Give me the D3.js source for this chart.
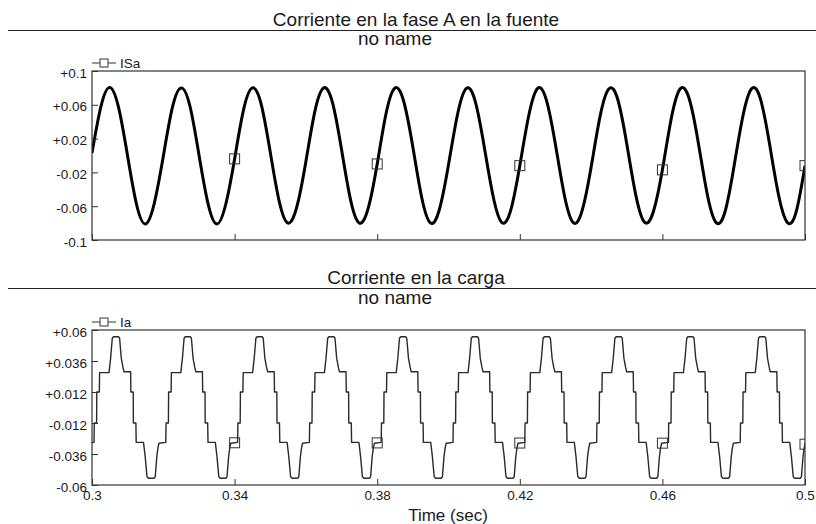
<!DOCTYPE html>
<html>
<head>
<meta charset="utf-8">
<script src="https://cdn.jsdelivr.net/npm/d3@7"></script>
<style>
  body { margin: 0; background: #fff; }
  text { font-family: "Liberation Sans", Arial, sans-serif; fill: #1a1a1a; }
</style>
</head>
<body>
<svg id="chart" width="816" height="524"></svg>
<script>
// axis ticks
const timeTicks = [0.3, 0.34, 0.38, 0.42, 0.46, 0.5];
const sourceTicks = [-0.1, -0.06, -0.02, 0.02, 0.06, 0.1];
const loadTicks = [-0.06, -0.036, -0.012, 0.012, 0.036, 0.06];
const markerTimes = [0.34, 0.38, 0.42, 0.46, 0.5];

const sourceStart = 0.3;
const sourceStep = 0.0025;
const sourceCurrent = [
  0.003, 0.058, 0.0805, 0.056, -0.001, -0.058, -0.081, -0.056,
  -0.001, 0.056, 0.080, 0.058, 0.001, -0.056, -0.081, -0.058,
  -0.004, 0.054, 0.080, 0.060, 0.004, -0.054, -0.080, -0.060,
  -0.007, 0.052, 0.080, 0.062, 0.007, -0.052, -0.080, -0.062,
  -0.010, 0.050, 0.080, 0.063, 0.010, -0.050, -0.080, -0.063,
  -0.011, 0.048, 0.0795, 0.064, 0.011, -0.048, -0.0795, -0.064,
  -0.012, 0.047, 0.0795, 0.065, 0.013, -0.047, -0.0795, -0.065,
  -0.014, 0.046, 0.079, 0.066, 0.014, -0.046, -0.079, -0.066,
  -0.017, 0.044, 0.079, 0.0675, 0.017, -0.044, -0.079, -0.0675,
  -0.015, 0.045, 0.079, 0.067, 0.015, -0.045, -0.079, -0.067,
  -0.012
];

// Ia: one period of the stepped load current (time offset from the rising edge, value)
const loadShapeT = [0, 0.00008, 0.00073, 0.00079, 0.00149, 0.00157, 0.00421, 0.00466, 0.00513, 0.00547,
  0.00687, 0.00718, 0.00766, 0.00813, 0.00842, 0.01027, 0.01035, 0.01100, 0.01105, 0.01175,
  0.01184, 0.01389, 0.01436, 0.01487, 0.01529, 0.01683, 0.01717, 0.01762, 0.01795, 0.01823];
const loadShapeV = [-0.027, -0.012, -0.012, 0.012, 0.012, 0.027, 0.027, 0.038, 0.0536, 0.0548,
  0.0548, 0.0536, 0.038, 0.031, 0.0277, 0.0277, 0.012, 0.012, -0.012, -0.012,
  -0.027, -0.027, -0.038, -0.0536, -0.0548, -0.0548, -0.0536, -0.038, -0.031, -0.0277];
// rising edge of each period as seen on the plot
const loadCycleStarts = [0.28042, 0.30056, 0.32070, 0.34084, 0.36098, 0.38112,
  0.40126, 0.42140, 0.44155, 0.46169, 0.48183];

// build point lists
const sourceData = sourceCurrent.map((v, i) => ({ t: sourceStart + i * sourceStep, v: v }));
const loadData = [];
loadCycleStarts.forEach(t0 => {
  loadShapeT.forEach((dt, i) => loadData.push({ t: t0 + dt, v: loadShapeV[i] }));
});
loadData.push({ t: 0.52, v: -0.027 });

const bisect = d3.bisector(d => d.t).left;
function valueAt(data, t) {
  const i = bisect(data, t);
  if (i <= 0) return data[0].v;
  if (i >= data.length) return data[data.length - 1].v;
  const a = data[i - 1], b = data[i];
  return a.v + (b.v - a.v) * (t - a.t) / (b.t - a.t);
}

const svg = d3.select('#chart');
const x = d3.scaleLinear().domain([0.3, 0.5]).range([92, 805]);
const signed = d => (d > 0 ? '+' : '') + String(d);

const panels = [
  { id: 'src', title: 'Corriente en la fase A en la fuente', sepY: 30, titleY: 26, subY: 45,
    top: 71, bottom: 240, domain: [-0.1, 0.1], ticks: sourceTicks, data: sourceData,
    name: 'ISa', width: 3, curve: d3.curveNatural, xLabels: false },
  { id: 'load', title: 'Corriente en la carga', sepY: 288, titleY: 284, subY: 304,
    top: 330, bottom: 485, domain: [-0.06, 0.06], ticks: loadTicks, data: loadData,
    name: 'Ia', width: 1.4, curve: d3.curveLinear, xLabels: true }
];

panels.forEach(p => {
  const y = d3.scaleLinear().domain(p.domain).range([p.bottom, p.top]);

  svg.append('line')
    .attr('x1', 8).attr('x2', 816)
    .attr('y1', p.sepY + 0.5).attr('y2', p.sepY + 0.5)
    .attr('stroke', '#222').attr('stroke-width', 1.2);

  svg.append('text')
    .attr('x', 416).attr('y', p.titleY)
    .attr('text-anchor', 'middle')
    .style('font-size', '19px')
    .text(p.title);

  svg.append('text')
    .attr('x', 395).attr('y', p.subY)
    .attr('text-anchor', 'middle')
    .style('font-size', '19px')
    .text('no name');

  svg.append('clipPath').attr('id', 'clip-' + p.id)
    .append('rect')
    .attr('x', 92).attr('y', p.top)
    .attr('width', 805 - 92).attr('height', p.bottom - p.top);

  const line = d3.line().x(d => x(d.t)).y(d => y(d.v)).curve(p.curve);

  const plot = svg.append('g').attr('clip-path', `url(#clip-${p.id})`);
  plot.append('path')
    .datum(p.data)
    .attr('d', line)
    .attr('fill', 'none')
    .attr('stroke', p.id === 'src' ? '#000' : '#2a2a2a')
    .attr('stroke-width', p.width)
    .attr('stroke-linejoin', 'round');

  plot.selectAll('rect.marker')
    .data(markerTimes)
    .join('rect')
    .attr('class', 'marker')
    .attr('x', t => x(t) - 5)
    .attr('y', t => y(valueAt(p.data, t)) - 5)
    .attr('width', 10).attr('height', 10)
    .attr('fill', 'none')
    .attr('stroke', '#333')
    .attr('stroke-width', 1);

  // frame
  svg.append('rect')
    .attr('x', 92).attr('y', p.top)
    .attr('width', 805 - 92).attr('height', p.bottom - p.top)
    .attr('fill', 'none')
    .attr('stroke', '#333')
    .attr('stroke-width', 1.2);

  svg.append('g')
    .attr('transform', 'translate(92,0)')
    .call(d3.axisLeft(y).tickValues(p.ticks).tickSize(-6).tickPadding(5).tickFormat(signed))
    .call(g => g.select('.domain').remove())
    .call(g => g.selectAll('line').attr('stroke', '#333'))
    .call(g => g.selectAll('text')
      .attr('dy', '0.45em')
      .style('font-size', '13.5px')
      .style('font-family', '"Liberation Sans", Arial, sans-serif')
      .attr('fill', '#1a1a1a'));

  const xAxis = d3.axisBottom(x).tickValues(timeTicks).tickSize(-6).tickPadding(5);
  if (!p.xLabels) xAxis.tickFormat('');
  else xAxis.tickFormat(d => String(d));
  svg.append('g')
    .attr('transform', `translate(0,${p.bottom})`)
    .call(xAxis)
    .call(g => g.select('.domain').remove())
    .call(g => g.selectAll('line').attr('stroke', '#333'))
    .call(g => g.selectAll('text')
      .style('font-size', '13.5px')
      .style('font-family', '"Liberation Sans", Arial, sans-serif')
      .attr('fill', '#1a1a1a'));

  // legend above the frame
  const ly = p.top - 8;
  const lg = svg.append('g');
  lg.append('line')
    .attr('x1', 92).attr('x2', 116).attr('y1', ly).attr('y2', ly)
    .attr('stroke', '#333');
  lg.append('rect')
    .attr('x', 100).attr('y', ly - 4).attr('width', 8).attr('height', 8)
    .attr('fill', '#fff').attr('stroke', '#333');
  lg.append('text')
    .attr('x', 120).attr('y', ly)
    .attr('dy', '0.35em')
    .style('font-size', '13.5px')
    .text(p.name);
});

svg.append('text')
  .attr('x', 448).attr('y', 521)
  .attr('text-anchor', 'middle')
  .style('font-size', '17px')
  .text('Time (sec)');
</script>
</body>
</html>
